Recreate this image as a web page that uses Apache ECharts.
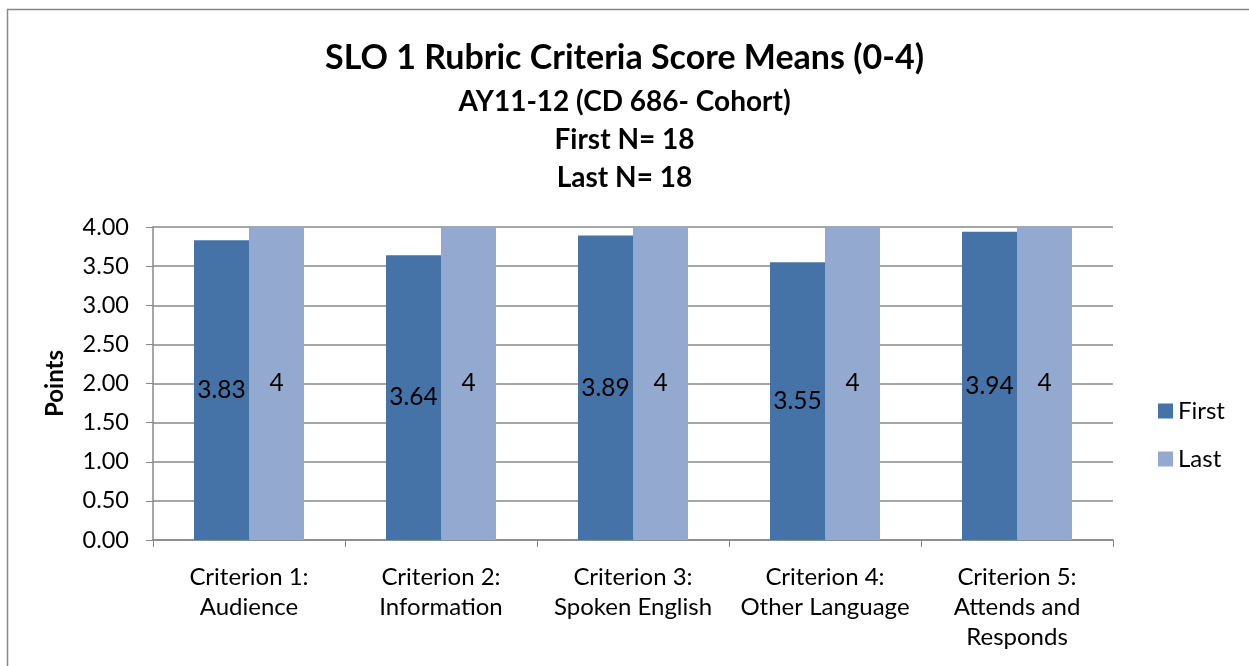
<!DOCTYPE html>
<html>
<head>
<meta charset="utf-8">
<script src="https://cdn.jsdelivr.net/npm/echarts@6/dist/echarts.min.js"></script>
<style>
html,body{margin:0;padding:0;background:#fff;overflow:hidden;}
#c{width:1249px;height:666px;}
</style>
</head>
<body>
<div id="c"></div>
<script>
const categories = ["Criterion 1:\nAudience", "Criterion 2:\nInformation", "Criterion 3:\nSpoken English", "Criterion 4:\nOther Language", "Criterion 5:\nAttends and\nResponds"];
const firstValues = [3.83, 3.64, 3.89, 3.55, 3.94];
const lastValues = [4, 4, 4, 4, 4];
const seriesNames = ["First", "Last"];
const titleText = "SLO 1 Rubric Criteria Score Means (0-4)";
const subtitleLines = ["AY11-12 (CD 686- Cohort)", "First N= 18", "Last N= 18"];
const yAxisName = "Points";

const FONT = "Lato, 'Open Sans', sans-serif";
const chart = echarts.init(document.getElementById('c'), null, {renderer: 'canvas'});
chart.setOption({
  backgroundColor: '#fff',
  animation: false,
  graphic: [{
    type: 'polyline', z: -1,
    shape: {points: [[7.5, 700], [7.5, 9.5], [1300, 9.5]]},
    style: {fill: 'none', stroke: '#888', lineWidth: 1.5}
  }],
  title: [{
    text: titleText, left: 'center', top: 36,
    textStyle: {fontFamily: FONT, fontSize: 34, fontWeight: 'bold', color: '#000'}
  }, {
    text: subtitleLines.join('\n'), left: 'center', top: 78,
    textStyle: {fontFamily: FONT, fontSize: 28, fontWeight: 'bold', color: '#000', lineHeight: 38}
  }],
  legend: {
    orient: 'vertical', left: 1153, top: 394, itemGap: 24,
    itemWidth: 15, itemHeight: 15, icon: 'rect',
    textStyle: {fontFamily: FONT, fontSize: 24, color: '#000'},
    data: seriesNames
  },
  grid: {left: 153, right: 136, top: 227, bottom: 126, containLabel: false},
  xAxis: {
    type: 'category', data: categories,
    axisLine: {lineStyle: {color: '#888', width: 1.5}},
    axisTick: {show: true, length: 7, lineStyle: {color: '#888'}},
    axisLabel: {fontFamily: FONT, fontSize: 24, color: '#000', lineHeight: 30, margin: 22, interval: 0}
  },
  yAxis: {
    type: 'value', min: 0, max: 4, interval: 0.5,
    name: yAxisName, nameLocation: 'middle', nameGap: 86, nameRotate: 90,
    nameTextStyle: {fontFamily: FONT, fontSize: 24, fontWeight: 'bold', color: '#000'},
    axisLine: {show: true, lineStyle: {color: '#888', width: 1.5}},
    axisTick: {show: true, length: 7, lineStyle: {color: '#888'}},
    splitLine: {lineStyle: {color: '#888', width: 1.5}},
    axisLabel: {fontFamily: FONT, fontSize: 23.5, color: '#000', margin: 24, formatter: v => v.toFixed(2)}
  },
  series: [{
    name: seriesNames[0], type: 'bar', data: firstValues, barWidth: 55, barGap: 0,
    itemStyle: {color: '#4573A7'},
    label: {show: true, position: 'inside', fontFamily: FONT, fontSize: 24.5, color: '#000'}
  }, {
    name: seriesNames[1], type: 'bar', data: lastValues, barWidth: 55,
    itemStyle: {color: '#93A9CF'},
    label: {show: true, position: 'inside', fontFamily: FONT, fontSize: 24.5, color: '#000'}
  }]
});
</script>
</body>
</html>
